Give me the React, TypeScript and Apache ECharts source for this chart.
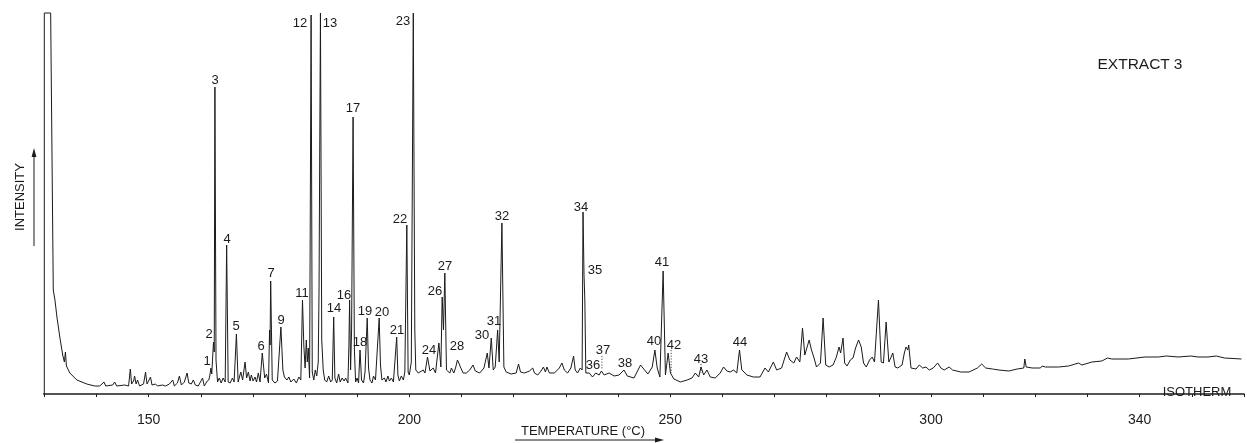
import React, { useEffect, useRef } from 'react';
import * as echarts from 'echarts';

// Detector trace: [column temperature in °C, detector response in arbitrary units].
// The first points are the pre-injection signal, then the saturated solvent front.
const TRACE: [number, number][] = [
  [124.3, 0], [130, 0], [130, 381], [131.22, 381], [131.72, 104], [132.04, 94], [132.42, 77],
  [133.0, 56], [133.57, 38], [133.85, 32], [134.05, 42], [134.24, 28], [134.9, 21], [136.24, 14],
  [138.15, 10], [139.68, 8],
  [140.63, 8], [141.45, 12], [141.77, 8], [143.11, 9], [143.49, 12], [143.87, 8], [145.4, 9],
  [146.16, 8], [146.49, 25], [146.74, 10], [147.12, 13], [147.31, 18], [147.6, 10], [147.88, 14],
  [148.26, 8], [149.03, 10], [149.41, 22], [149.69, 10], [149.98, 13], [150.36, 17], [150.65, 9],
  [151.32, 10], [151.7, 8], [152.65, 9], [153.23, 8], [153.99, 10], [154.62, 14], [154.94, 8],
  [155.52, 11], [155.9, 18], [156.28, 9], [156.85, 12], [157.37, 21], [157.71, 11], [158.19, 10],
  [158.57, 14], [158.95, 9], [159.52, 8], [160.34, 16], [160.67, 8], [161.24, 13],
  [161.53, 14], [161.72, 18], [161.95, 26], [162.1, 20], [162.44, 52], [162.58, 42], [162.71, 307],
  [162.92, 34], [163.21, 12], [163.53, 16], [163.91, 11], [164.29, 16], [164.68, 12], [164.96, 149],
  [165.25, 12], [165.63, 11], [166.07, 16], [166.39, 12], [166.83, 60], [167.16, 12], [167.67, 22],
  [168.02, 14], [168.49, 32], [168.78, 16], [169.12, 22], [169.45, 13], [169.69, 19], [170.02, 13],
  [170.4, 17], [170.69, 12], [171.03, 21], [171.36, 12], [171.79, 41], [172.25, 16], [172.6, 20],
  [172.98, 11], [173.19, 64], [173.28, 49], [173.4, 113], [173.7, 14], [174.22, 11], [174.7, 13],
  [175.36, 67], [175.74, 24], [176.03, 17], [176.51, 14], [176.89, 17], [177.27, 12], [177.84, 15],
  [178.32, 11], [178.8, 17], [179.18, 14],
  [179.5, 94], [179.75, 49], [180.0, 26], [180.23, 54], [180.42, 32], [180.61, 46], [180.86, 16],
  [181.15, 379], [181.37, 22], [181.66, 14], [181.95, 24], [182.23, 18], [182.52, 32], [182.67, 104],
  [182.94, 381], [183.19, 54], [183.47, 24], [183.76, 14], [184.14, 12], [184.52, 18], [184.9, 12],
  [185.21, 14], [185.48, 77], [185.71, 16], [186.05, 11], [186.43, 20], [186.72, 12], [187.1, 16],
  [187.48, 13], [187.77, 16], [188.21, 11], [188.4, 49], [188.53, 94], [188.72, 24], [188.91, 64],
  [189.2, 277], [189.45, 44], [189.68, 12], [189.96, 16], [190.25, 11], [190.53, 44], [190.82, 14],
  [191.2, 11], [191.49, 22], [191.91, 76], [192.16, 26], [192.44, 14], [192.82, 11], [193.11, 18],
  [193.49, 14], [194.2, 76], [194.45, 29], [194.73, 14], [195.21, 16], [195.5, 12], [195.88, 18],
  [196.16, 13], [196.55, 16], [196.93, 12], [197.56, 57], [197.79, 19], [198.07, 13], [198.45, 18],
  [198.84, 14], [199.12, 22], [199.5, 169], [199.75, 22], [199.98, 19], [200.36, 32], [200.74, 381],
  [201.03, 64], [201.22, 24], [201.7, 21],
  [202.65, 24], [202.98, 21], [203.47, 37], [203.93, 23], [204.56, 26], [205.0, 21], [205.65, 51],
  [206.03, 27], [206.28, 97], [206.53, 64], [206.79, 121], [207.1, 24], [207.75, 21], [208.05, 26],
  [208.51, 21], [208.89, 27], [209.2, 34], [209.47, 31], [209.77, 27], [210.29, 21], [210.91, 21],
  [211.56, 24], [212.19, 29], [212.63, 23], [213.47, 21], [214.29, 26], [214.92, 41], [215.25, 26],
  [215.69, 56], [216.07, 24], [216.45, 27], [216.91, 64], [217.21, 32], [217.73, 171], [218.11, 27],
  [218.55, 22], [219.5, 20], [220.46, 21], [220.92, 30], [221.3, 22], [222.06, 21], [223.01, 23],
  [223.64, 26], [223.97, 21], [224.6, 19], [225.23, 23], [225.69, 27], [226.07, 22], [226.37, 27],
  [226.83, 21], [227.79, 21], [228.74, 26], [229.24, 31], [229.69, 24], [230.32, 21], [230.95, 26],
  [231.47, 38], [231.79, 24], [232.23, 21], [232.75, 26], [233.11, 24], [233.28, 182], [233.47, 119],
  [233.63, 94], [233.82, 21], [234.47, 21], [235.1, 17], [235.72, 21], [236.37, 19], [236.81, 23],
  [237.33, 19], [238.28, 21], [239.24, 18], [240.19, 19], [241.14, 24], [241.77, 18], [243.05, 16],
  [244.31, 29], [245.08, 24], [245.72, 20], [246.55, 27], [247.06, 44], [247.5, 26], [248.02, 17],
  [248.64, 123], [249.08, 19], [249.6, 41], [250.04, 21], [250.69, 15], [251.95, 12], [253.23, 14],
  [254.18, 16], [254.81, 21], [255.46, 17], [255.9, 27], [256.41, 19], [257.04, 24], [257.67, 17],
  [258.63, 16], [259.58, 21], [260.23, 27], [260.86, 23], [261.49, 22], [262.14, 24], [262.76, 21],
  [263.28, 44], [263.72, 24], [264.16, 22], [264.68, 19], [265.95, 17], [267.21, 17], [268.17, 26],
  [268.82, 22], [269.77, 32], [270.4, 24], [271.35, 26], [272.31, 42], [272.94, 34], [273.7, 31],
  [274.22, 37], [274.85, 32], [275.36, 66], [275.8, 39], [276.64, 54], [277.08, 44], [277.52, 37],
  [278.04, 27], [278.8, 31], [279.31, 76], [279.81, 29], [280.46, 27], [281.22, 29], [281.85, 37],
  [282.36, 47], [282.67, 41], [283.13, 56], [283.44, 31], [283.89, 28], [284.52, 34], [285.04, 36],
  [285.53, 46], [286.11, 54], [286.62, 47], [287.06, 31], [287.58, 27], [288.21, 34], [288.72, 37],
  [289.16, 32], [289.92, 94], [290.44, 32], [290.88, 31], [291.39, 72], [291.91, 32], [292.35, 37],
  [292.67, 41], [293.11, 27], [293.63, 26], [294.45, 29], [294.88, 41], [295.21, 47], [295.53, 44],
  [295.72, 49], [296.16, 26], [297.12, 25], [297.75, 29], [298.4, 26], [299.03, 27], [299.66, 24],
  [300.42, 26], [301.26, 31], [301.89, 26], [302.52, 24], [303.47, 27], [304.12, 24], [305.71, 22],
  [307.29, 22], [308.89, 26], [309.71, 30], [310.48, 26], [311.76, 25], [313.02, 24], [314.92, 23],
  [316.53, 25], [317.78, 26], [317.98, 35], [318.24, 27], [319.39, 26], [320.97, 26], [321.3, 28],
  [321.93, 27], [324.46, 27], [326.37, 28], [328.28, 31], [328.93, 29], [330.84, 32], [332.75, 33],
  [333.82, 36], [334.66, 35], [337.82, 35], [341.01, 37], [343.55, 37], [345.15, 38], [347.37, 37],
  [349.79, 38], [351.18, 37], [353.09, 37], [354.69, 38], [356.28, 36], [359.52, 35],
];

// Numbered components: [peak number, elution temperature in °C]
const PEAK_LABELS: [string, number][] = [
  ['1', 161.95], ['2', 162.44], ['3', 162.71], ['4', 164.96], ['5', 166.83], ['6', 171.79],
  ['7', 173.4], ['9', 175.36], ['11', 179.5], ['12', 181.15], ['13', 182.94], ['14', 185.48],
  ['16', 188.53], ['17', 189.2], ['18', 190.53], ['19', 191.91], ['20', 194.2], ['21', 197.56],
  ['22', 199.5], ['23', 200.74], ['24', 203.47], ['26', 206.28], ['27', 206.79], ['28', 209.2],
  ['30', 215.69], ['31', 216.91], ['32', 217.73], ['34', 233.28], ['35', 233.47], ['36', 234.47],
  ['37', 236.81], ['38', 241.14], ['40', 247.06], ['41', 248.64], ['42', 249.6], ['43', 255.9],
  ['44', 263.28],
];

// Temperatures printed under the axis
const TEMP_LABELS = [150, 200, 250, 300, 340];

// Label placement relative to each peak apex, in pixels (label centre)
const LABEL_OFFSETS: Record<string, [number, number]> = {
  '1': [-3.5, -8], '2': [-5, -9], '3': [0, -8], '4': [0, -7], '5': [0, -9], '6': [-1, -8],
  '7': [0, -9], '9': [0, -8], '11': [0, -8], '12': [-11, 7], '13': [10, 9], '14': [0, -10],
  '16': [-6, -6], '17': [0, -10], '18': [0, -9], '19': [-2, -8], '20': [3, -7], '21': [0, -8],
  '22': [-7, -7], '23': [-10, 7], '24': [1, -8], '26': [-7, -7], '27': [0, -8], '28': [0, -15],
  '30': [-9, -4], '31': [-4, -10], '32': [0, -8], '34': [-2, -6], '35': [11, -6], '36': [4, -9],
  '37': [2, -22], '38': [1, -8], '40': [-1, -10], '41': [-1, -10], '42': [6, -9], '43': [0, -9],
  '44': [0, -9],
};

// Dotted leaders drawn from the label down towards the peak: [dx, yFrom, yTo] relative to apex
const DOTTED_LEADERS: Record<string, [number, number, number]> = {
  '37': [0.5, -15, -1],
  '42': [3, -3, 20],
  '43': [0, -3, 6],
};

const FONT = "'Liberation Sans', Arial, Helvetica, sans-serif";
const INK = '#1b1b1b';

function apexOf(t: number): [number, number] {
  let best = TRACE[0];
  for (const p of TRACE) {
    if (Math.abs(p[0] - t) < Math.abs(best[0] - t)) best = p;
  }
  return best;
}

export default function App() {
  const ref = useRef<HTMLDivElement>(null);

  useEffect(() => {
    if (!ref.current) return;
    const chart = echarts.init(ref.current, undefined, { renderer: 'svg' });

    chart.setOption({
      animation: false,
      backgroundColor: '#ffffff',
      color: [INK],
      grid: { left: 44.3, top: 13, width: 1205.2, height: 394 },
      xAxis: {
        type: 'value',
        min: 130,
        max: 360,
        interval: 10,
        axisLine: { show: true, lineStyle: { color: INK, width: 1.6 } },
        axisTick: { show: true, length: 3, lineStyle: { color: INK, width: 1 } },
        axisLabel: {
          show: true,
          margin: 5,
          fontSize: 14,
          fontFamily: FONT,
          color: INK,
          formatter: (val: number) => (TEMP_LABELS.includes(Math.round(val)) ? String(Math.round(val)) : ''),
        },
        splitLine: { show: false },
      },
      yAxis: {
        type: 'value',
        min: -13,
        max: 381,
        show: false,
        splitLine: { show: false },
      },
      series: [
        {
          type: 'line',
          name: 'EXTRACT 3',
          data: TRACE,
          showSymbol: false,
          symbol: 'none',
          clip: false,
          silent: true,
          lineStyle: { color: INK, width: 1 },
        },
      ],
    });

    // Peak numbers, placed on whole pixels next to each apex
    const apexPixel = (t: number) => chart.convertToPixel({ gridIndex: 0 }, apexOf(t)) as number[];

    const peakTexts: any[] = PEAK_LABELS.map(([name, t]) => {
      const [px, py] = apexPixel(t);
      const [dx, dy] = LABEL_OFFSETS[name] ?? [0, -8];
      return {
        type: 'text',
        x: Math.round(px + dx),
        y: Math.round(py + dy),
        style: { text: name, font: `13px ${FONT}`, fill: INK, align: 'center', verticalAlign: 'middle' },
        silent: true,
        z: 10,
      };
    });

    const leaders: any[] = Object.entries(DOTTED_LEADERS).map(([name, [dx, y1, y2]]) => {
      const t = PEAK_LABELS.find((p) => p[0] === name)![1];
      const [px, py] = apexPixel(t);
      return {
        type: 'line',
        shape: { x1: px + dx, y1: py + y1, x2: px + dx, y2: py + y2 },
        style: { stroke: INK, lineWidth: 0.8, lineDash: [1.2, 1.6] },
        silent: true,
      };
    });

    chart.setOption({
      graphic: [
        ...peakTexts,
        ...leaders,
        {
          type: 'text',
          x: 1140,
          y: 63,
          style: { text: 'EXTRACT 3', font: `15.5px ${FONT}`, fill: INK, align: 'center', verticalAlign: 'middle' },
          silent: true,
        },
        {
          type: 'text',
          x: 1197,
          y: 391,
          style: { text: 'ISOTHERM', font: `13px ${FONT}`, fill: INK, align: 'center', verticalAlign: 'middle' },
          silent: true,
        },
        {
          type: 'text',
          x: 19,
          y: 197,
          rotation: Math.PI / 2,
          style: { text: 'INTENSITY', font: `13px ${FONT}`, fill: INK, align: 'center', verticalAlign: 'middle' },
          silent: true,
        },
        {
          type: 'line',
          shape: { x1: 34, y1: 246, x2: 34, y2: 154 },
          style: { stroke: INK, lineWidth: 1 },
          silent: true,
        },
        {
          type: 'polygon',
          shape: { points: [[31.6, 157], [36.4, 157], [34, 148]] },
          style: { fill: INK },
          silent: true,
        },
        {
          type: 'text',
          x: 583,
          y: 430,
          style: { text: 'TEMPERATURE (°C)', font: `13px ${FONT}`, fill: INK, align: 'center', verticalAlign: 'middle' },
          silent: true,
        },
        {
          type: 'line',
          shape: { x1: 515, y1: 440, x2: 657, y2: 440 },
          style: { stroke: INK, lineWidth: 1 },
          silent: true,
        },
        {
          type: 'polygon',
          shape: { points: [[655, 437.6], [655, 442.4], [664, 440]] },
          style: { fill: INK },
          silent: true,
        },
      ],
    });

    return () => chart.dispose();
  }, []);

  return (
    <div
      ref={ref}
      style={{
        position: 'absolute',
        left: 0,
        top: 0,
        width: 1247,
        height: 443,
        background: '#fff',
        filter: 'grayscale(1)',
      }}
    />
  );
}
